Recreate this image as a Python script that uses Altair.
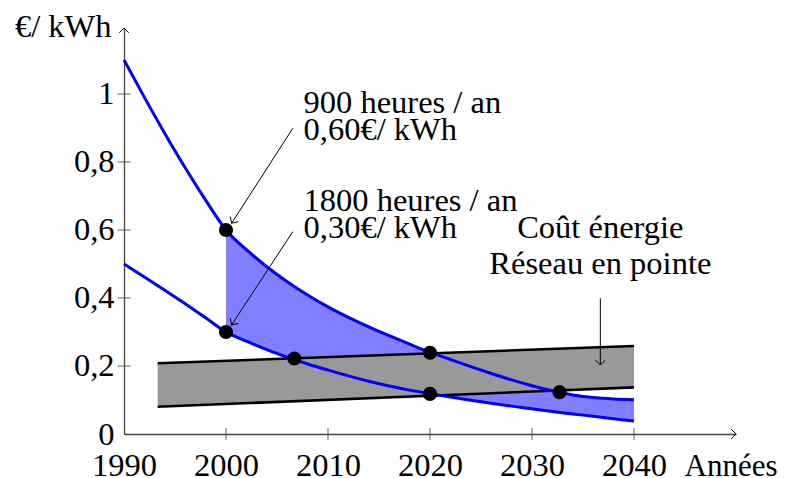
import math
import altair as alt
import pandas as pd

# ---- data ----
years = [1990, 1992, 1994, 1996, 1998, 2000, 2002, 2004, 2006, 2008, 2010, 2012, 2014,
         2016, 2018, 2020, 2022, 2024, 2026, 2028, 2030, 2032, 2034, 2036, 2038, 2040]
upper = [1.10, 0.990, 0.884, 0.783, 0.688, 0.600, 0.542, 0.492, 0.448, 0.409, 0.374, 0.343, 0.315,
         0.289, 0.264, 0.240, 0.219, 0.198, 0.178, 0.159, 0.142, 0.127, 0.115, 0.107, 0.103, 0.101]
lower = [0.500, 0.462, 0.423, 0.383, 0.342, 0.300, 0.273, 0.248, 0.226, 0.206, 0.188, 0.171, 0.155,
         0.141, 0.129, 0.119, 0.109, 0.0995, 0.0905, 0.082, 0.074, 0.066, 0.059, 0.052, 0.045, 0.038]

band_years = [1993.3, 2040]
band_top = [0.208, 0.259]
band_bottom = [0.080, 0.137]

dot_x = [2000, 2000, 2006.7, 2020, 2020, 2032.7]
dot_y = [0.60, 0.30, 0.222, 0.239, 0.118, 0.123]

x_ticks = [1990, 2000, 2010, 2020, 2030, 2040]
y_ticks = [0, 0.2, 0.4, 0.6, 0.8, 1]

ann_left_text = ["900 heures / an", "0,60€/ kWh", "1800 heures / an", "0,30€/ kWh"]
ann_left_x = [2007.6, 2007.6, 2007.6, 2007.6]
ann_left_y = [0.943, 0.866, 0.657, 0.577]

ann_center_text = ["Coût énergie", "Réseau en pointe"]
ann_center_x = [2036.7, 2036.7]
ann_center_y = [0.577, 0.471]

arrow_x = [2006.55, 2006.55, 2036.7]
arrow_y = [0.899, 0.595, 0.399]
arrow_x2 = [2000.55, 2000.55, 2036.7]
arrow_y2 = [0.620, 0.321, 0.203]

X_DOMAIN = [1990, 2050]
Y_DOMAIN = [0, 1.194]
W, H = 612, 406
FONT = "Liberation Serif, Times New Roman, Times, serif"
FS = 32.5

# ---- tables ----
curves = pd.DataFrame({"x": years, "y": upper, "y2": lower})
fill = curves[curves["x"] >= 2000]
band = pd.DataFrame({"x": band_years, "y": band_top, "y2": band_bottom})
dots = pd.DataFrame({"x": dot_x, "y": dot_y})
xt = pd.DataFrame({"x": [v for v in x_ticks if v != X_DOMAIN[0]], "y": 0})
yt = pd.DataFrame({"x": X_DOMAIN[0], "y": [v for v in y_ticks if v != 0]})
annL = pd.DataFrame({"x": ann_left_x, "y": ann_left_y, "t": ann_left_text})
annC = pd.DataFrame({"x": ann_center_x, "y": ann_center_y, "t": ann_center_text})
arrows = pd.DataFrame({"x": arrow_x, "y": arrow_y, "x2": arrow_x2, "y2": arrow_y2})

sx = W / (X_DOMAIN[1] - X_DOMAIN[0])
sy = H / (Y_DOMAIN[1] - Y_DOMAIN[0])


def ang(x0, y0, x1, y1):
    a = math.degrees(math.atan2(-(y1 - y0) * sy, (x1 - x0) * sx))
    return a % 360


heads = pd.DataFrame({
    "x": arrow_x2 + [X_DOMAIN[1], X_DOMAIN[0]],
    "y": arrow_y2 + [0, Y_DOMAIN[1]],
    "angle": [ang(a, b, c, d) for a, b, c, d in zip(arrow_x, arrow_y, arrow_x2, arrow_y2)] + [0, 270],
})

xs = alt.Scale(domain=X_DOMAIN, nice=False, zero=False)
ys = alt.Scale(domain=Y_DOMAIN, nice=False, zero=False)

xaxis = alt.Axis(values=x_ticks, format="d", grid=False, ticks=False, tickSize=0,
                 labelFont=FONT, labelFontSize=FS, labelColor="black", labelPadding=41,
                 labelBaseline="alphabetic", labelFlush=False, labelOverlap=False, labelBound=False,
                 domainColor="#444", domainWidth=1.3,
                 title="Années", titleFont=FONT, titleFontSize=31, titleFontWeight="normal",
                 titleColor="black", titleAngle=0, titleAlign="left", titleBaseline="alphabetic",
                 titleX=560, titleY=41)
yaxis = alt.Axis(values=y_ticks, grid=False, ticks=False, tickSize=0,
                 labelExpr="replace(format(datum.value, '~g'), '.', ',')",
                 labelFont=FONT, labelFontSize=FS, labelColor="black", labelPadding=10,
                 labelBaseline="middle", labelFlush=False, labelOverlap=False, labelBound=False,
                 domainColor="#444", domainWidth=1.3,
                 title="€/ kWh", titleFont=FONT, titleFontSize=FS, titleFontWeight="normal",
                 titleColor="black", titleAngle=0, titleAlign="right", titleBaseline="alphabetic",
                 titleX=-13, titleY=8)

X = alt.X("x:Q", scale=xs, axis=xaxis)
Y = alt.Y("y:Q", scale=ys, axis=yaxis)
Y2L = alt.Y("y2:Q", scale=ys, axis=yaxis)

blue_fill = alt.Chart(fill).mark_area(color="#8080ff", interpolate="monotone").encode(X, Y, y2="y2:Q")
gray_fill = alt.Chart(band).mark_area(color="#999999").encode(X, Y, y2="y2:Q")
band_top_l = alt.Chart(band).mark_line(color="black", strokeWidth=2.6).encode(X, Y)
band_bot_l = alt.Chart(band).mark_line(color="black", strokeWidth=2.6).encode(X, Y2L)
up_line = alt.Chart(curves).mark_line(color="#0000ff", strokeWidth=3, interpolate="monotone").encode(X, Y)
lo_line = alt.Chart(curves).mark_line(color="#0000ff", strokeWidth=3, interpolate="monotone").encode(X, Y2L)
pts = alt.Chart(dots).mark_circle(color="black", size=200, opacity=1).encode(X, Y)
xtick = alt.Chart(xt).mark_tick(orient="vertical", size=12, thickness=1.2, color="#444").encode(X, Y)
ytick = alt.Chart(yt).mark_tick(orient="horizontal", size=13, thickness=1.2, color="#444").encode(X, Y)
arr = alt.Chart(arrows).mark_rule(color="black", strokeWidth=1).encode(X, Y, x2="x2:Q", y2="y2:Q")
hd = alt.Chart(heads).mark_point(shape="M -1 -1 L 0 0 L -1 1", filled=False, size=90,
                                  strokeWidth=1, color="black", opacity=1).encode(
    X, Y, angle=alt.Angle("angle:Q", scale=None))
txtL = alt.Chart(annL).mark_text(font=FONT, fontSize=FS, align="left", baseline="alphabetic",
                                  color="black").encode(X, Y, text="t:N")
txtC = alt.Chart(annC).mark_text(font=FONT, fontSize=FS, align="center", baseline="alphabetic",
                                  color="black").encode(X, Y, text="t:N")

chart = alt.layer(blue_fill, gray_fill, band_top_l, band_bot_l, up_line, lo_line, pts,
                  xtick, ytick, arr, hd, txtL, txtC).properties(
    width=W, height=H, autosize="none", background="white",
    padding={"left": 116, "top": 20, "right": 41, "bottom": 43},
).configure_view(strokeWidth=0, stroke="transparent")

chart.save("out.html", embed_options={"renderer": "svg", "actions": False})
